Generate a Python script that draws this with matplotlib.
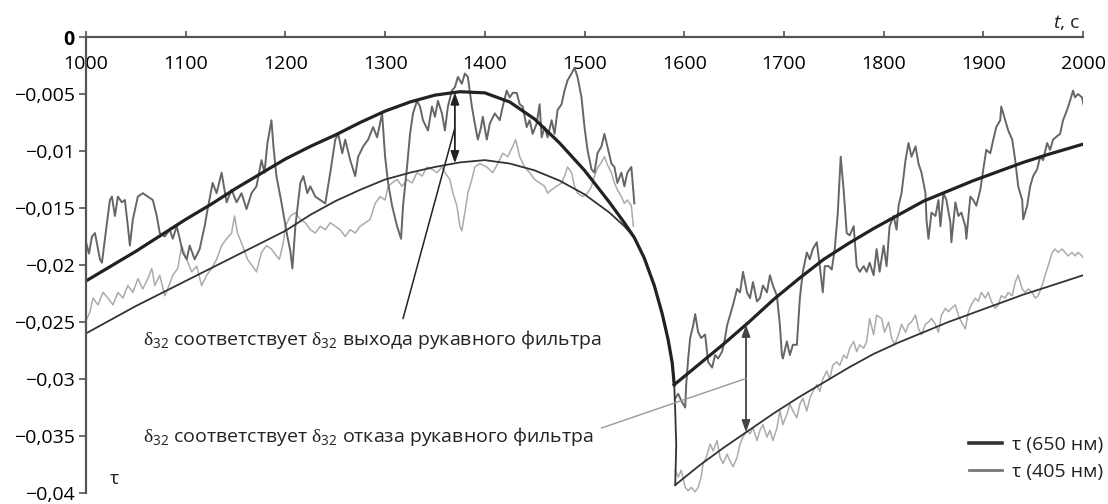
import numpy as np
import matplotlib.pyplot as plt
from matplotlib.lines import Line2D

# время, с и оптическая толщина tau (значения в единицах 1e-3)
# измеренный сигнал 650 нм, до и после отказа
t_650_a = [1000, 1003, 1006, 1009, 1014, 1016, 1021, 1024, 1026, 1029, 1032, 1036, 1039, 1042, 1044,
           1047, 1052, 1057, 1062, 1067, 1071, 1074, 1079, 1084, 1087, 1091, 1094, 1097, 1101, 1104,
           1109, 1114, 1119, 1122, 1127, 1131, 1136, 1141, 1146, 1151, 1156, 1161, 1166, 1171, 1176,
           1179, 1182, 1186, 1188, 1191, 1196, 1199, 1202, 1205, 1207, 1210, 1215, 1218, 1222, 1225,
           1230, 1235, 1240, 1245, 1250, 1253, 1257, 1260, 1265, 1270, 1273, 1278, 1283, 1288, 1292,
           1297, 1300, 1303, 1307, 1312, 1316, 1318, 1322, 1325, 1328, 1332, 1335, 1338, 1343, 1347,
           1350, 1353, 1357, 1360, 1363, 1367, 1370, 1373, 1377, 1380, 1383, 1387, 1390, 1393, 1396,
           1398, 1402, 1405, 1410, 1415, 1418, 1422, 1425, 1428, 1432, 1435, 1438, 1442, 1445, 1448,
           1452, 1455, 1457, 1460, 1463, 1467, 1470, 1473, 1477, 1480, 1483, 1487, 1490, 1493, 1497,
           1500, 1503, 1507, 1510, 1513, 1517, 1520, 1523, 1527, 1530, 1533, 1537, 1540, 1543, 1547,
           1548, 1550]
tau_650_a = [-18.0, -19.0, -17.5, -17.2, -19.5, -19.8, -16.3, -14.3, -14.0, -15.7, -14.0, -14.5, -14.3, -16.6, -18.3,
             -16.0, -14.0, -13.7, -14.0, -14.3, -15.7, -17.2, -17.5, -16.9, -17.7, -16.6, -17.7, -18.9, -19.5, -18.3,
             -19.5, -18.6, -16.6, -15.1, -12.8, -13.7, -11.9, -14.5, -13.4, -14.5, -13.7, -15.1, -13.7, -13.1, -10.8,
             -11.9, -9.3, -7.3, -9.6, -12.2, -14.5, -16.0, -17.5, -18.8, -20.3, -16.6, -12.8, -12.2, -13.7, -13.1,
             -14.0, -14.3, -14.6, -11.9, -9.0, -8.5, -10.2, -9.0, -10.8, -12.2, -10.5, -9.6, -9.0, -7.9, -8.8,
             -6.7, -10.5, -12.8, -14.8, -16.6, -17.7, -14.8, -11.4, -8.5, -6.7, -5.6, -6.1, -7.3, -8.2, -6.1,
             -7.0, -5.6, -6.7, -8.2, -6.1, -4.7, -4.4, -3.5, -4.1, -3.2, -3.5, -6.1, -7.6, -9.0, -8.0,
             -7.0, -9.0, -7.6, -6.7, -7.3, -6.1, -4.7, -5.3, -4.9, -4.9, -5.9, -6.1, -7.9, -7.3, -8.5,
             -7.6, -5.9, -8.8, -7.9, -8.8, -7.3, -8.5, -6.4, -5.9, -4.7, -3.8, -3.2, -2.7, -3.5, -5.3,
             -7.9, -9.9, -11.6, -11.9, -10.2, -9.6, -8.5, -9.6, -11.1, -11.4, -12.8, -11.9, -13.1, -11.9, -11.4,
             -12.5, -14.6]

t_650_b = [1591, 1594, 1597, 1601, 1602, 1604, 1606, 1609, 1611, 1614, 1617, 1621, 1624, 1628, 1631,
           1634, 1638, 1641, 1643, 1646, 1649, 1653, 1656, 1659, 1663, 1666, 1669, 1673, 1676, 1679,
           1683, 1686, 1689, 1693, 1696, 1698, 1699, 1703, 1706, 1709, 1713, 1716, 1719, 1723, 1726,
           1729, 1733, 1736, 1739, 1741, 1745, 1748, 1751, 1754, 1757, 1760, 1763, 1766, 1770, 1773,
           1776, 1780, 1783, 1786, 1790, 1793, 1796, 1800, 1803, 1806, 1810, 1813, 1815, 1818, 1822,
           1825, 1828, 1832, 1835, 1838, 1842, 1843, 1845, 1848, 1852, 1855, 1857, 1860, 1863, 1867,
           1868, 1872, 1875, 1878, 1882, 1883, 1887, 1890, 1893, 1897, 1900, 1903, 1907, 1910, 1913,
           1917, 1918, 1922, 1925, 1929, 1932, 1935, 1939, 1940, 1944, 1947, 1950, 1954, 1957, 1960,
           1964, 1967, 1970, 1974, 1977, 1980, 1984, 1987, 1990, 1992, 1995, 1999, 2001]
tau_650_b = [-31.7, -31.3, -31.9, -32.5, -30.5, -28.2, -26.4, -25.3, -24.3, -25.9, -26.4, -26.1, -28.5, -29.0, -27.9,
             -28.2, -27.6, -26.4, -25.3, -24.4, -23.5, -22.1, -22.4, -20.6, -22.4, -22.9, -21.5, -23.2, -22.9, -21.8,
             -22.4, -20.9, -21.8, -22.7, -25.3, -27.9, -28.2, -26.7, -27.9, -27.0, -27.0, -22.9, -20.6, -18.9, -19.5,
             -18.6, -18.0, -20.1, -22.4, -20.1, -20.1, -20.4, -18.6, -15.5, -10.5, -13.5, -17.2, -17.4, -16.6, -20.1,
             -20.6, -20.1, -20.6, -19.8, -20.9, -18.6, -20.6, -18.3, -20.1, -16.6, -15.7, -16.9, -14.8, -13.7, -10.8,
             -9.3, -10.5, -9.6, -11.1, -11.9, -13.7, -16.0, -17.7, -15.4, -15.7, -14.3, -16.6, -13.7, -14.3, -16.3,
             -18.0, -14.5, -15.7, -15.4, -16.6, -17.7, -14.0, -14.3, -14.8, -13.4, -11.6, -9.9, -10.2, -9.0, -7.9,
             -7.3, -6.1, -7.3, -8.2, -9.0, -10.8, -13.1, -14.3, -16.0, -14.8, -13.1, -12.2, -11.6, -10.5, -10.8,
             -9.3, -9.9, -9.0, -8.7, -8.5, -7.3, -6.4, -5.6, -4.7, -5.3, -5.0, -5.3, -6.1]

# измеренный сигнал 405 нм
t_405_a = [1001, 1004, 1007, 1012, 1017, 1022, 1027, 1032, 1037, 1042, 1047, 1052, 1057, 1062, 1066,
           1069, 1074, 1079, 1082, 1087, 1092, 1096, 1101, 1106, 1111, 1116, 1121, 1126, 1131, 1136,
           1141, 1146, 1149, 1152, 1157, 1162, 1167, 1171, 1176, 1181, 1186, 1191, 1194, 1198, 1200,
           1205, 1210, 1215, 1220, 1225, 1230, 1235, 1240, 1245, 1250, 1255, 1260, 1265, 1270, 1275,
           1280, 1285, 1290, 1295, 1300, 1303, 1307, 1312, 1317, 1322, 1327, 1332, 1337, 1342, 1347,
           1352, 1357, 1360, 1365, 1368, 1372, 1375, 1377, 1380, 1383, 1387, 1390, 1395, 1402, 1408,
           1413, 1418, 1423, 1428, 1431, 1435, 1440, 1445, 1450, 1455, 1460, 1463, 1467, 1472, 1477,
           1480, 1483, 1487, 1490, 1493, 1498, 1503, 1507, 1510, 1513, 1517, 1520, 1523, 1527, 1530,
           1533, 1537, 1540, 1543, 1547, 1549]
tau_405_a = [-24.7, -24.1, -22.9, -23.5, -22.4, -22.9, -23.5, -22.4, -22.9, -21.8, -22.4, -21.2, -22.1, -21.2, -20.3,
             -21.8, -20.9, -22.7, -22.1, -20.9, -20.3, -18.3, -19.5, -20.6, -20.1, -21.8, -20.9, -20.3, -19.5, -18.3,
             -17.7, -17.2, -15.7, -17.2, -18.3, -19.5, -20.1, -20.6, -18.9, -18.3, -18.6, -19.2, -19.5, -18.0, -16.6,
             -15.7, -15.4, -16.0, -16.3, -16.9, -17.2, -16.6, -16.9, -16.3, -16.6, -16.9, -17.5, -16.9, -17.2, -16.6,
             -16.3, -16.0, -14.6, -14.0, -14.3, -13.1, -12.8, -12.5, -13.1, -12.5, -12.8, -11.9, -12.2, -11.4, -11.6,
             -11.9, -11.4, -11.9, -12.5, -13.7, -14.8, -16.6, -17.0, -15.4, -13.7, -12.5, -11.4, -11.1, -11.4, -11.9,
             -11.1, -10.2, -10.5, -9.6, -9.0, -10.5, -11.4, -11.9, -12.5, -12.8, -13.1, -13.7, -13.4, -13.1, -12.8,
             -12.2, -11.4, -11.9, -13.1, -13.7, -14.0, -13.7, -13.1, -12.2, -11.5, -11.0, -10.5, -11.2, -11.9, -12.8,
             -13.4, -14.0, -14.6, -14.3, -14.8, -16.6]

t_405_b = [1591, 1594, 1597, 1601, 1604, 1607, 1611, 1614, 1617, 1619, 1622, 1626, 1629, 1633, 1636,
           1639, 1643, 1646, 1649, 1653, 1656, 1659, 1663, 1666, 1669, 1673, 1676, 1679, 1683, 1686,
           1689, 1693, 1696, 1699, 1703, 1706, 1709, 1713, 1716, 1719, 1723, 1726, 1729, 1733, 1736,
           1739, 1743, 1746, 1749, 1753, 1756, 1760, 1763, 1766, 1770, 1773, 1776, 1780, 1783, 1786,
           1790, 1793, 1798, 1801, 1805, 1808, 1811, 1815, 1818, 1822, 1825, 1828, 1832, 1835, 1838,
           1842, 1845, 1848, 1852, 1855, 1858, 1862, 1865, 1868, 1872, 1875, 1878, 1882, 1885, 1888,
           1892, 1895, 1898, 1902, 1905, 1908, 1912, 1915, 1918, 1922, 1925, 1929, 1932, 1935, 1939,
           1942, 1945, 1949, 1952, 1955, 1959, 1962, 1965, 1969, 1972, 1975, 1979, 1982, 1985, 1989,
           1992, 1995, 1999, 2001]
tau_405_b = [-38.0, -38.6, -38.0, -39.5, -39.8, -39.5, -39.9, -39.5, -38.6, -37.4, -36.9, -35.7, -36.3, -35.4, -36.9,
             -37.4, -36.6, -37.2, -37.7, -36.9, -35.7, -35.1, -34.5, -34.8, -34.3, -35.4, -34.5, -34.0, -35.1, -34.5,
             -35.4, -34.3, -32.8, -34.0, -33.1, -32.2, -32.8, -33.4, -32.2, -31.7, -32.8, -31.7, -31.1, -30.5, -31.1,
             -30.0, -29.3, -30.0, -28.8, -28.5, -28.8, -27.9, -28.2, -27.3, -26.7, -27.6, -27.0, -27.3, -26.7, -24.7,
             -26.1, -24.4, -24.7, -25.9, -25.0, -26.4, -27.0, -26.1, -25.2, -25.9, -25.2, -25.0, -24.4, -25.6, -26.1,
             -25.2, -25.0, -24.7, -25.2, -25.9, -24.4, -23.8, -24.1, -23.8, -23.5, -24.4, -25.0, -25.6, -24.1, -23.5,
             -22.9, -23.2, -22.4, -22.9, -22.4, -23.2, -23.8, -23.5, -22.7, -22.9, -22.4, -22.7, -21.5, -20.9, -22.1,
             -22.4, -22.1, -22.4, -22.9, -22.7, -21.8, -20.9, -20.1, -18.9, -18.6, -18.9, -18.6, -18.9, -19.2, -18.9,
             -19.2, -18.9, -19.2, -19.5]

# расчётные кривые; после 1550 с обе идут по одной дуге
t_fit650_a = [1000, 1025, 1050, 1075, 1100, 1125, 1150, 1175, 1200, 1225, 1250, 1275, 1300, 1325, 1350,
              1375, 1400, 1425, 1450, 1475, 1500, 1525, 1540, 1550, 1560, 1570, 1578, 1584, 1588, 1590]
fit650_a = [-21.4, -20.1, -18.8, -17.4, -16.0, -14.7, -13.3, -12.0, -10.7, -9.6, -8.6, -7.5, -6.5, -5.7, -5.1,
            -4.8, -4.9, -5.7, -7.2, -9.3, -11.7, -14.5, -16.3, -17.6, -19.4, -21.8, -24.3, -26.6, -28.6, -30.5]

t_fit650_b = [1590, 1615, 1640, 1665, 1690, 1715, 1740, 1765, 1790, 1815, 1840, 1865, 1890, 1915, 1940,
              1965, 2000]
fit650_b = [-30.5, -28.7, -26.9, -25.0, -23.0, -21.2, -19.5, -18.1, -16.8, -15.6, -14.4, -13.5, -12.6, -11.8, -11.0,
            -10.3, -9.4]

t_fit405_a = [1000, 1025, 1050, 1075, 1100, 1125, 1150, 1175, 1200, 1225, 1250, 1275, 1300, 1325, 1350,
              1375, 1400, 1425, 1450, 1475, 1500, 1525, 1540, 1550, 1560, 1570, 1578, 1584, 1588, 1590,
              1591, 1592, 1591]
fit405_a = [-26.0, -24.8, -23.6, -22.5, -21.4, -20.3, -19.2, -18.1, -17.0, -15.6, -14.4, -13.4, -12.5, -11.9, -11.4,
            -11.0, -10.8, -11.1, -11.7, -12.6, -13.8, -15.4, -16.6, -17.6, -19.4, -21.8, -24.3, -26.6, -28.6, -30.5,
            -32.8, -35.8, -39.3]

t_fit405_b = [1591, 1615, 1640, 1665, 1690, 1715, 1740, 1765, 1790, 1815, 1840, 1865, 1890, 1915, 1940,
              1965, 2000]
fit405_b = [-39.3, -37.6, -36.0, -34.5, -33.0, -31.6, -30.3, -29.0, -27.8, -26.8, -25.9, -25.0, -24.2, -23.4, -22.6,
            -21.9, -20.9]

# моменты, где показана разница между кривыми
t_exit = 1370
t_fail = 1662

def tau(v):
    return np.asarray(v) * 1e-3

plt.rcParams['font.family'] = ['Open Sans', 'DejaVu Sans']
plt.rcParams['mathtext.fontset'] = 'custom'
plt.rcParams['mathtext.rm'] = 'Liberation Serif'
plt.rcParams['mathtext.it'] = 'Open Sans:italic'
plt.rcParams['mathtext.sf'] = 'Open Sans'
plt.rcParams['text.color'] = '#222222'

fig = plt.figure(figsize=(11.08, 5.04), dpi=100)
ax = fig.add_axes([86 / 1108, 11 / 504, 997 / 1108, 456 / 504])

c_dark, c_light = '#666666', '#ababab'
ax.plot(t_405_a, tau(tau_405_a), color=c_light, lw=1.1)
ax.plot(t_405_b, tau(tau_405_b), color=c_light, lw=1.1)
ax.plot(t_650_a, tau(tau_650_a), color=c_dark, lw=1.4)
ax.plot(t_650_b, tau(tau_650_b), color=c_dark, lw=1.4)
ax.plot(t_fit405_a, tau(fit405_a), color='#333333', lw=1.3)
ax.plot(t_fit405_b, tau(fit405_b), color='#333333', lw=1.3)
ax.plot(t_fit650_a, tau(fit650_a), color='#222222', lw=2.3)
ax.plot(t_fit650_b, tau(fit650_b), color='#222222', lw=2.3)

ax.set_xlim(1000, 2000)
ax.set_ylim(-0.04, 0)

# ось времени проходит по tau = 0
for s in ('top', 'right'):
    ax.spines[s].set_visible(False)
ax.spines['bottom'].set_position(('data', 0))
for s in ('bottom', 'left'):
    ax.spines[s].set_color('#555555')
    ax.spines[s].set_linewidth(1.6)

ax.set_xticks(np.arange(1000, 2001, 100))
ax.tick_params(axis='x', direction='in', length=4, width=1.2, color='#555555', pad=13, labelsize=14)
for lbl in ax.get_xticklabels():
    lbl.set_bbox(dict(facecolor='white', edgecolor='none', pad=0.5))

yt = np.arange(-0.04, 0.0001, 0.005)
ylabels = ['0' if abs(v) < 1e-9 else f'{round(v, 4):g}'.replace('.', ',').replace('-', '\u2212') for v in yt]
ax.set_yticks(yt, ylabels)
ax.tick_params(axis='y', direction='out', length=5, width=1.2, color='#555555', pad=3, labelsize=14)
for lbl in ax.get_yticklabels():
    if lbl.get_text() == '0':
        lbl.set_fontweight('bold')

ax.text(0.024, 0.03, 'τ', transform=ax.transAxes, fontsize=14, ha='left', va='center')
ax.text(0.997, 1.031, '$t$, с', transform=ax.transAxes, fontsize=14, ha='right', va='center')

# двусторонние стрелки между расчётными кривыми
y_top1 = np.interp(t_exit, t_fit650_a, tau(fit650_a))
y_bot1 = np.interp(t_exit, t_fit405_a[:23], tau(fit405_a[:23]))
ax.annotate('', xy=(t_exit, y_bot1), xytext=(t_exit, y_top1),
            arrowprops=dict(arrowstyle='<|-|>,head_length=0.7,head_width=0.25', color='#222222', lw=1.3,
                            shrinkA=0, shrinkB=0))
y_top2 = np.interp(t_fail, t_fit650_b, tau(fit650_b))
y_bot2 = np.interp(t_fail, t_fit405_b, tau(fit405_b))
ax.annotate('', xy=(t_fail, y_bot2), xytext=(t_fail, y_top2),
            arrowprops=dict(arrowstyle='<|-|>,head_length=0.7,head_width=0.25', color='#444444', lw=1.3,
                            shrinkA=0, shrinkB=0))

# выноски
ax.annotate('', xy=(t_exit, (y_top1 + y_bot1) / 2), xytext=(1318, -0.0247),
            arrowprops=dict(arrowstyle='-', color='#222222', lw=1.1, shrinkA=0, shrinkB=0))
ax.annotate('', xy=(t_fail, (y_top2 + y_bot2) / 2), xytext=(1517, -0.0343),
            arrowprops=dict(arrowstyle='-', color='#999999', lw=1.0, shrinkA=0, shrinkB=0))

d32 = r'$\mathrm{\delta}_{\mathsf{32}}$'
ax.text(1057, -0.0265, f'{d32} соответствует {d32} выхода рукавного фильтра', fontsize=14, va='center')
ax.text(1057, -0.0350, f'{d32} соответствует {d32} отказа рукавного фильтра', fontsize=14, va='center')

handles = [Line2D([], [], color='#333333', lw=2.6), Line2D([], [], color='#777777', lw=2.0)]
ax.legend(handles, ['τ (650 нм)', 'τ (405 нм)'], loc='lower right', bbox_to_anchor=(1.038, -0.012),
          frameon=False, fontsize=14, handlelength=1.7, handletextpad=0.5, labelspacing=0.45)

fig.savefig('out.png', dpi=100)
